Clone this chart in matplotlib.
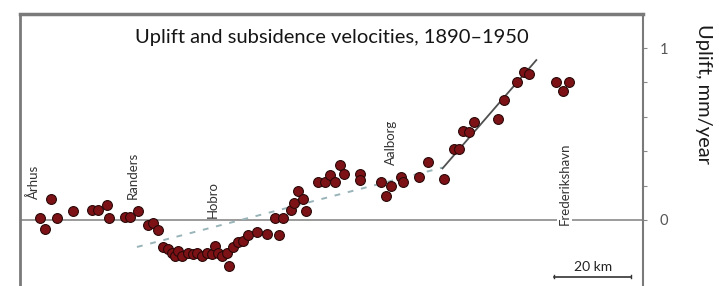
import matplotlib
matplotlib.use("Agg")
import matplotlib.pyplot as plt
import numpy as np

# distance along profile (km) and uplift velocity (mm/year)
dist_km = [5.2, 6.5, 8.1, 9.6, 13.8, 18.7, 20.3, 22.6, 23.1, 27.3, 28.6, 30.6,
           33.2, 34.5, 35.8, 37.1, 38.4, 39.5, 40.3, 41.0, 42.1, 43.6, 44.9,
           46.0, 47.3, 48.6, 49.9, 50.6, 51.4, 52.5, 53.8, 54.3, 55.3, 56.6,
           57.9, 59.2, 61.6, 64.2, 67.3, 66.2, 68.3, 70.6, 71.2, 72.2, 73.5,
           74.5, 77.4, 79.2, 80.5, 81.8, 83.1, 84.2, 88.3, 88.3, 94.0, 95.1,
           96.4, 99.0, 99.5, 103.9, 106.0, 110.4, 113.0, 114.3, 115.3, 116.9,
           118.2, 124.2, 126.0, 129.4, 131.2, 132.5, 139.5, 141.3, 142.9]
uplift = [0.01, -0.05, 0.12, 0.01, 0.05, 0.06, 0.06, 0.09, 0.01, 0.02, 0.02, 0.05,
          -0.03, -0.02, -0.06, -0.16, -0.17, -0.19, -0.21, -0.18, -0.21, -0.19, -0.20,
          -0.19, -0.21, -0.19, -0.20, -0.15, -0.19, -0.21, -0.19, -0.27, -0.16, -0.13,
          -0.12, -0.09, -0.07, -0.08, -0.09, 0.01, 0.01, 0.06, 0.10, 0.17, 0.12,
          0.05, 0.22, 0.22, 0.26, 0.22, 0.32, 0.27, 0.27, 0.23, 0.22, 0.14,
          0.20, 0.25, 0.22, 0.25, 0.34, 0.24, 0.41, 0.41, 0.52, 0.51,
          0.57, 0.59, 0.70, 0.80, 0.86, 0.85, 0.80, 0.75, 0.80]

# trend lines
dash_x = [30.4, 109.9]
dash_y = [-0.157, 0.305]
solid_x = [109.9, 134.3]
solid_y = [0.30, 0.93]

towns = ["Århus", "Randers", "Hobro", "Aalborg", "Frederikshavn"]
town_x = [3.4, 29.4, 50.1, 96.6, 141.6]
town_y = [0.12, 0.12, 0.01, 0.32, -0.03]

plt.rcParams["font.family"] = ["Lato", "DejaVu Sans"]

fig = plt.figure(figsize=(7.19, 2.86), dpi=100)
ax = fig.add_axes([0.028, 0.0, 0.866, 0.951])
ax.set_xlim(0, 162)
ax.set_ylim(-0.384, 1.198)

ax.axhline(0, color="#8a8a8a", lw=1.2, zorder=1)
ax.plot(dash_x, dash_y, color="#98b4b8", lw=1.4, ls=(0, (3, 4)), zorder=2)
ax.plot(solid_x, solid_y, color="#505050", lw=1.3, zorder=2)
ax.scatter(dist_km, uplift, s=50, color="#7d1216", edgecolor="#2a0808",
           linewidth=0.8, zorder=3)

for name, x, y in zip(towns, town_x, town_y):
    ax.text(x, y, name, rotation=90, ha="center", va="bottom", fontsize=9.5,
            color="#333333", zorder=4,
            bbox=dict(facecolor="white", edgecolor="none", pad=1.0) if name == "Frederikshavn" else None)

ax.text(0.5, 1.06, "Uplift and subsidence velocities, 1890–1950",
        transform=ax.get_yaxis_transform(), ha="center", va="center",
        fontsize=14.5, color="#151515")

# scale bar
ax.plot([139, 159], [-0.33, -0.33], color="#333333", lw=1.2)
ax.plot([139, 139], [-0.34, -0.32], color="#333333", lw=1.0)
ax.plot([159, 159], [-0.34, -0.32], color="#333333", lw=1.0)
ax.text(149, -0.31, "20 km", ha="center", va="bottom", fontsize=10, color="#222222")

for side in ["left", "top", "right"]:
    ax.spines[side].set_color("#7a7a7a")
ax.spines["left"].set_linewidth(2)
ax.spines["top"].set_linewidth(2.5)
ax.spines["right"].set_linewidth(1.5)
ax.spines["bottom"].set_visible(False)

ax.set_xticks([])
ax.yaxis.tick_right()
ax.set_yticks([0, 0.2, 0.4, 0.6, 0.8, 1.0])
ax.set_yticklabels(["0", "", "", "", "", "1"])
ax.tick_params(axis="y", direction="out", length=3, width=0.8, color="#888888",
               labelsize=10.5, labelcolor="#555555", pad=9)

fig.text(0.979, 0.67, "Uplift, mm/year", rotation=-90, ha="center", va="center",
         fontsize=14.5, color="#1a1a1a")

fig.savefig("out.png", dpi=100)
